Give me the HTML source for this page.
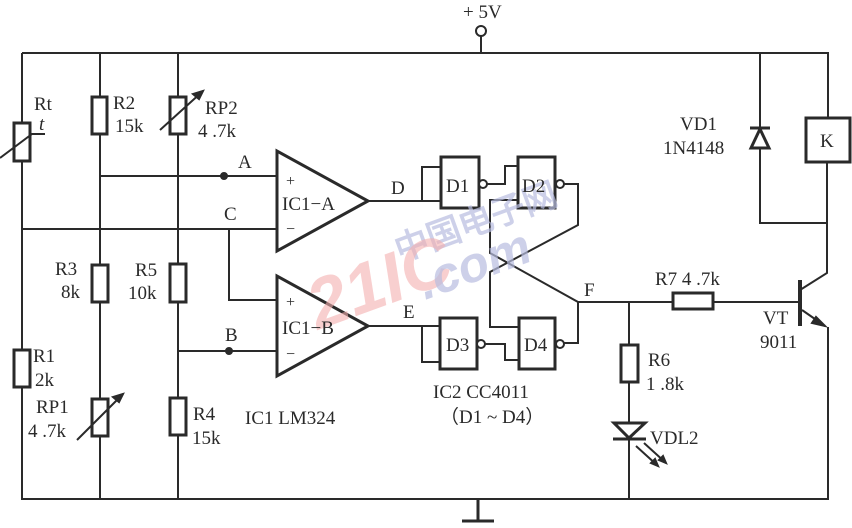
<!DOCTYPE html>
<html><head><meta charset="utf-8"><style>
html,body{margin:0;padding:0;background:#fff}
svg{display:block}
text{font-family:"Liberation Serif",serif;font-size:19px;fill:#2a2a2a}
</style></head><body>
<svg width="852" height="528" viewBox="0 0 852 528" xmlns="http://www.w3.org/2000/svg">
<g stroke="#2a2a2a" stroke-width="2" fill="none">
<path d="M22 53H828V117M481 36V53M22 53V499H828V327"/>
<path d="M478 499V520M462 521H494" stroke-width="3"/>
<circle cx="481" cy="31" r="5" fill="#fff"/>
<path d="M100 53V499M178 53V499"/>
<path d="M22 229H277M100 176H277M178 351H277M229 229V300H277"/>
<g fill="#fff" stroke-width="3">
<rect x="14" y="123" width="16" height="38"/>
<rect x="92" y="97" width="15" height="37"/>
<rect x="170" y="97" width="16" height="37"/>
<rect x="92" y="265" width="16" height="37"/>
<rect x="170" y="264" width="16" height="38"/>
<rect x="14" y="350" width="16" height="37"/>
<rect x="92" y="399" width="16" height="37"/>
<rect x="170" y="398" width="16" height="37"/>
<rect x="621" y="345" width="17" height="37"/>
<rect x="673" y="293" width="40" height="16"/>
<rect x="806" y="118" width="44" height="44"/>
</g>
<path d="M0 158L32 134H45M160 130L203 91M77 440L123 394"/>
<path d="M203 91l-10 3 6 5z M123 394l-10 3 6 5z" fill="#2a2a2a"/>
<circle cx="224" cy="176" r="3" fill="#2a2a2a"/>
<circle cx="229" cy="351" r="3" fill="#2a2a2a"/>
<path d="M277 151V251L368 201Z M277 276V376L368 326Z" stroke-width="3"/>
<path d="M368 201H441M422 201V167H441M368 326H440M422 326V362H440"/>
<g stroke-width="3">
<rect x="441" y="157" width="38" height="51"/>
<rect x="518" y="157" width="37" height="51"/>
<rect x="440" y="318" width="37" height="51"/>
<rect x="519" y="318" width="36" height="51"/>
</g>
<g fill="#fff"><circle cx="483" cy="184" r="4"/><circle cx="560" cy="184" r="4"/><circle cx="481" cy="344" r="4"/><circle cx="560" cy="344" r="4"/></g>
<path d="M487 184H505V166H518M564 184H578V225L490 272V327H519M519 200H490V253L578 302V343H564M485 344H505V360H519"/>
<path d="M578 302H673M713 302H800M629 302V345M629 382V499"/>
<path d="M614 423H645L629 438Z" fill="#fff" stroke-width="3"/>
<path d="M613 439H646" stroke-width="3"/>
<path d="M636 446L658 466M644 443L666 463"/>
<path d="M658 466l-3-7-4 4zM666 463l-3-7-4 4z" fill="#2a2a2a"/>
<path d="M800 280V326" stroke-width="4"/>
<path d="M800 290L827 273V162M802 310L825 326"/>
<path d="M825 326l-9-9-4 6z" fill="#2a2a2a"/>
<path d="M760 53V223H827"/>
<path d="M750 128H770M760 129L751 148H769Z" stroke-width="3" fill="#fff"/>
</g>
<text x="400" y="262" style="font-family:'Liberation Sans',sans-serif;font-size:34px;font-weight:bold;fill:#b8bde0;opacity:.7" transform="rotate(-20 400 262)">中国电子网</text>
<text x="318" y="330" style="font-family:'Liberation Sans',sans-serif;font-size:70px;font-weight:bold;font-style:italic;fill:#f4b0b0;opacity:.6" transform="rotate(-20 318 330)">21IC</text>
<text x="425" y="300" style="font-family:'Liberation Sans',sans-serif;font-size:50px;font-weight:bold;font-style:italic;fill:#b8bde0;opacity:.7" transform="rotate(-20 425 300)">.com</text>
<text x="463" y="18">+ 5V</text>
<text x="34" y="110">Rt</text><text x="39" y="130" style="font-style:italic">t</text>
<text x="113" y="109">R2</text><text x="115" y="132">15k</text>
<text x="205" y="114">RP2</text><text x="198" y="137">4 .7k</text>
<text x="238" y="168">A</text><text x="224" y="220">C</text><text x="225" y="341">B</text>
<text x="286" y="186" style="font-size:16px">+</text><text x="286" y="234" style="font-size:16px">−</text>
<text x="282" y="210">IC1−A</text>
<text x="286" y="307" style="font-size:16px">+</text><text x="286" y="359" style="font-size:16px">−</text>
<text x="282" y="334">IC1−B</text>
<text x="55" y="275">R3</text><text x="61" y="298">8k</text>
<text x="135" y="276">R5</text><text x="128" y="299">10k</text>
<text x="33" y="362">R1</text><text x="35" y="386">2k</text>
<text x="36" y="413">RP1</text><text x="28" y="437">4 .7k</text>
<text x="193" y="420">R4</text><text x="192" y="444">15k</text>
<text x="245" y="424">IC1 LM324</text>
<text x="391" y="194">D</text><text x="403" y="318">E</text>
<text x="446" y="192">D1</text><text x="522" y="192">D2</text>
<text x="446" y="351">D3</text><text x="524" y="351">D4</text>
<text x="433" y="398">IC2 CC4011</text><text x="440" y="423">（D1 ~ D4）</text>
<text x="584" y="296">F</text>
<text x="655" y="285">R7 4 .7k</text>
<text x="648" y="366">R6</text><text x="646" y="390">1 .8k</text>
<text x="650" y="444">VDL2</text>
<text x="763" y="324">VT</text><text x="760" y="348">9011</text>
<text x="680" y="130">VD1</text><text x="663" y="154">1N4148</text>
<text x="820" y="147">K</text>
</svg>
</body></html>
